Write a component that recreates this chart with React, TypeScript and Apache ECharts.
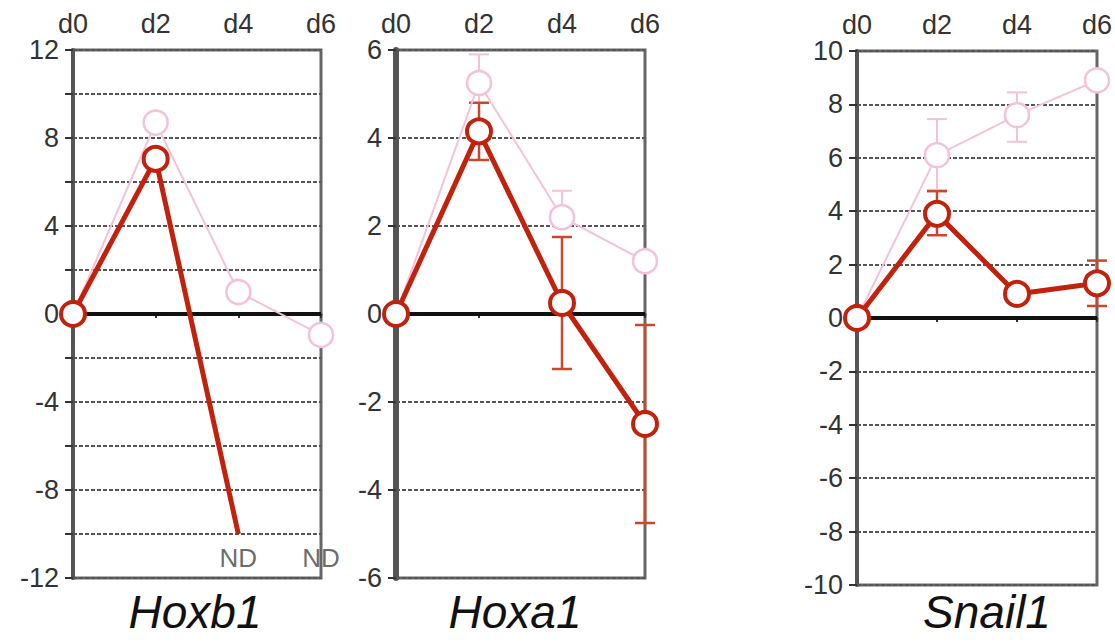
import React, { useEffect, useRef } from "react";
import * as echarts from "echarts";

const days = ["d0", "d2", "d4", "d6"];

// Hoxb1
const hoxb1Red: (number | null)[] = [0, 7.05, -10, null];
const hoxb1Pink = [0, 8.7, 1.0, -0.95];
// Hoxa1
const hoxa1Red = [0, 4.15, 0.25, -2.5];
const hoxa1RedLow = [0, 3.5, -1.25, -4.75];
const hoxa1RedHigh = [0, 4.8, 1.75, -0.25];
const hoxa1Pink = [0, 5.25, 2.2, 1.2];
const hoxa1PinkLow = [0, 4.8, 2.2, 1.2];
const hoxa1PinkHigh = [0, 5.9, 2.8, 1.2];
// Snail1
const snail1Red = [0, 3.9, 0.9, 1.3];
const snail1RedLow = [0, 3.1, 0.9, 0.45];
const snail1RedHigh = [0, 4.75, 0.9, 2.15];
const snail1Pink = [0, 6.1, 7.6, 8.9];
const snail1PinkLow = [0, 4.8, 6.6, 8.9];
const snail1PinkHigh = [0, 7.45, 8.45, 8.9];

const titles = ["Hoxb1", "Hoxa1", "Snail1"];
const ndLabels = ["d4", "d6"];

const RED = "#c0220e";
const PINK = "#f2c2da";
const FONT = "Liberation Sans";

export default function App() {
  const ref = useRef<HTMLDivElement>(null);
  useEffect(() => {
    if (!ref.current) return;
    const chart = echarts.init(ref.current, null, { renderer: "svg" });

    const grids = [
      { left: 73, top: 50, width: 248, height: 528 },
      { left: 396, top: 50, width: 249, height: 528 },
      { left: 857, top: 51, width: 254, height: 534 },
    ];
    const ranges = [
      { min: -12, max: 12, every: 4 },
      { min: -6, max: 6, every: 2 },
      { min: -10, max: 10, every: 2 },
    ];

    const errorBar = (gi: number, low: number[], high: number[], color: string, w: number, cap: number) => ({
      type: "custom",
      xAxisIndex: gi,
      yAxisIndex: gi,
      z: 2,
      data: days.map((_, i) => [i, low[i], high[i]]),
      renderItem: (params: any, api: any) => {
        const x = api.value(0);
        const lo = api.value(1);
        const hi = api.value(2);
        if (lo === hi) return null;
        const p1 = api.coord([x, lo]);
        const p2 = api.coord([x, hi]);
        const style = { stroke: color, lineWidth: w };
        return {
          type: "group",
          children: [
            { type: "line", shape: { x1: p1[0], y1: p1[1], x2: p2[0], y2: p2[1] }, style },
            { type: "line", shape: { x1: p1[0] - cap, y1: p1[1], x2: p1[0] + cap, y2: p1[1] }, style },
            { type: "line", shape: { x1: p2[0] - cap, y1: p2[1], x2: p2[0] + cap, y2: p2[1] }, style },
          ],
        };
      },
    });

    const lineSeries = (gi: number, data: any[], color: string, width: number, size: number, bw: number, z: number) => ({
      type: "line",
      xAxisIndex: gi,
      yAxisIndex: gi,
      data,
      z,
      symbol: "circle",
      symbolSize: size,
      showAllSymbol: true,
      connectNulls: false,
      lineStyle: { color, width },
      itemStyle: { color: "#fff", borderColor: color, borderWidth: bw },
    });

    const zeroLine = (gi: number) => ({
      type: "line",
      xAxisIndex: gi,
      yAxisIndex: gi,
      data: days.map(() => 0),
      symbol: "none",
      z: 1,
      lineStyle: { color: "#111", width: 4 },
      silent: true,
    });

    const option: any = {
      animation: false,
      backgroundColor: "#fff",
      grid: grids.map((g) => ({ ...g, show: true, borderColor: "#666", borderWidth: 3, backgroundColor: "transparent" })),
      title: [
        { text: titles[0], left: 190, top: 584 },
        { text: titles[1], left: 510, top: 584 },
        { text: titles[2], left: 982, top: 584 },
      ].map((t) => ({
        text: t.text,
        left: t.left,
        top: t.top,
        textAlign: "center",
        textStyle: { fontFamily: FONT, fontSize: 46, fontStyle: "italic", fontWeight: "normal", color: "#111" },
      })),
      xAxis: grids.map((_, gi) => ({
        type: "category",
        gridIndex: gi,
        data: days,
        boundaryGap: false,
        position: "top",
        axisLine: { show: true, lineStyle: { color: "#444", width: 3 } },
        axisTick: { show: true, inside: true, length: 4, lineStyle: { color: "#333", width: 2 } },
        axisLabel: { fontFamily: FONT, fontSize: 27, color: "#333", margin: 13 },
        splitLine: { show: false },
      })),
      yAxis: grids.map((_, gi) => ({
        type: "value",
        gridIndex: gi,
        min: ranges[gi].min,
        max: ranges[gi].max,
        interval: 2,
        axisLine: { show: true, lineStyle: { color: "#555", width: gi === 1 ? 6 : 4 } },
        axisTick: { show: true, length: 8, lineStyle: { color: "#333", width: 2 } },
        axisLabel: {
          fontFamily: FONT,
          fontSize: 27,
          color: "#333",
          margin: 14,
          formatter: (v: number) => (v % ranges[gi].every === 0 ? String(v) : ""),
        },
        splitLine: { show: true, lineStyle: { color: "#555", width: 2, type: [4, 2] } },
      })),
      series: [
        // Hoxb1
        zeroLine(0),
        lineSeries(0, hoxb1Pink, PINK, 2, 24, 2.5, 3),
        lineSeries(
          0,
          hoxb1Red.map((v, i) => (i === 2 ? { value: v, symbol: "none" } : v)),
          RED,
          5,
          24,
          4,
          5
        ),
        {
          type: "scatter",
          xAxisIndex: 0,
          yAxisIndex: 0,
          symbolSize: 0,
          data: ndLabels.map((d) => [d, -11.1]),
          label: { show: true, formatter: "ND", position: "inside", fontFamily: FONT, fontSize: 26, color: "#444" },
          z: 6,
        },
        // Hoxa1
        zeroLine(1),
        errorBar(1, hoxa1PinkLow, hoxa1PinkHigh, PINK, 2, 10),
        lineSeries(1, hoxa1Pink, PINK, 2, 24, 2.5, 3),
        errorBar(1, hoxa1RedLow, hoxa1RedHigh, "#c8482e", 2.5, 10),
        lineSeries(1, hoxa1Red, RED, 5, 24, 4, 5),
        // Snail1
        zeroLine(2),
        errorBar(2, snail1PinkLow, snail1PinkHigh, PINK, 2, 10),
        lineSeries(2, snail1Pink, PINK, 2, 24, 2.5, 3),
        errorBar(2, snail1RedLow, snail1RedHigh, "#c8482e", 2.5, 10),
        lineSeries(2, snail1Red, RED, 5, 24, 4, 5),
      ],
    };
    chart.setOption(option);
    return () => chart.dispose();
  }, []);
  return (
    <div
      ref={ref}
      style={{ position: "fixed", left: 0, top: 0, width: 1115, height: 643, background: "#fff" }}
    />
  );
}
